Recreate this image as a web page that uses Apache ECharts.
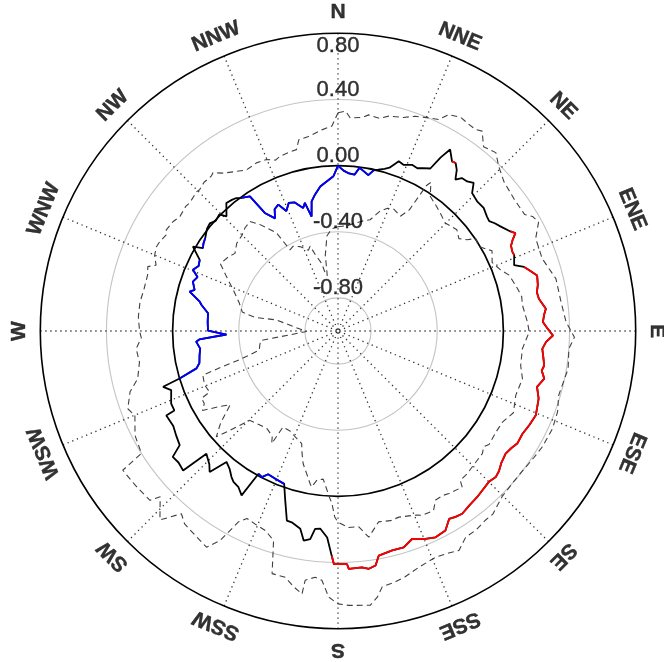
<!DOCTYPE html>
<html>
<head>
<meta charset="utf-8">
<script src="https://cdn.jsdelivr.net/npm/echarts@6/dist/echarts.min.js"></script>
<style>
html,body{margin:0;padding:0;background:#fff;}
#chart{width:664px;height:662px;}
</style>
</head>
<body>
<div id="chart"></div>
<script>
// ---- data ----
const directions = ['N','NNE','NE','ENE','E','ESE','SE','SSE','S','SSW','SW','WSW','W','WNW','NW','NNW'];
const radialTicks = [-0.8, -0.4, 0.0, 0.4, 0.8];
const radialMin = -1.0, radialMax = 0.8;

// [angle (deg, clockwise from N), value]
const mainSeries = [
[0,0.00],[2,-0.03],[4,-0.045],[6,-0.05],[7.5,-0.005],[9,-0.02],[11,-0.04],[12.5,-0.005],[14,0.005],[16,0.02],
[17.5,0.035],[19.7,0.09],[21.6,0.08],[24,0.10],[26,0.095],[27.5,0.11],[29.6,0.13],[30.6,0.22],[31.7,0.29],[33.9,0.236],
[35,0.24],[36.4,0.21],[37.8,0.158],[39,0.19],[40.8,0.195],[42.5,0.214],[44.2,0.163],[47,0.15],[49.8,0.153],[52.4,0.136],
[54,0.13],[55.5,0.15],[57.2,0.168],[60,0.204],[61.1,0.225],[62.5,0.19],[63.8,0.166],[65.6,0.158],[66.7,0.16],[69.5,0.137],
[71,0.19],[72.2,0.21],[74.4,0.25],[77,0.24],[79,0.225],[80.9,0.23],[83.9,0.264],[85.5,0.25],[87.5,0.24],[89.5,0.27],
[91.2,0.30],[93,0.26],[95,0.24],[97,0.25],[99.5,0.264],[101,0.255],[103,0.28],[105.7,0.25],[108.6,0.28],[111,0.29],
[113.1,0.30],[116,0.29],[119.2,0.277],[122,0.28],[124,0.265],[126.2,0.256],[129,0.27],[131,0.29],[132.8,0.30],[135,0.29],
[137.8,0.30],[140,0.31],[143,0.32],[145.8,0.336],[147.7,0.33],[149.4,0.32],[151.7,0.37],[154.7,0.38],[157.2,0.364],[160.4,0.335],
[163.1,0.367],[166.1,0.367],[169.7,0.38],[170.9,0.436],[172.6,0.45],[174.2,0.436],[177.4,0.44],[177.8,0.41],[181,0.41],[181.6,0.36],
[183,0.25],[185.1,0.20],[186.6,0.204],[187.6,0.27],[189.3,0.284],[190.8,0.217],[193.6,0.19],[195.1,0.187],[197.3,0.073],[199.4,-0.02],
[203,-0.03],[206,-0.036],[207.5,-0.004],[209.1,-0.012],[210.4,0.152],[212.5,0.12],[214.7,0.11],[216.1,0.093],[218.2,0.06],[220.4,0.04],
[222.3,0.153],[224,0.12],[227,0.088],[228,0.26],[230.5,0.25],[232.7,0.256],[234.2,0.18],[237.1,0.165],[240,0.15],[243.8,0.157],
[244.1,0.10],[246.5,0.10],[250.5,0.07],[252.3,0.11],[253.3,0.0],[255.2,-0.115],[257,-0.14],[260,-0.15],[262.7,-0.16],[265.7,-0.14],
[266.5,-0.16],[268.2,-0.325],[270.2,-0.214],[274,-0.21],[277.8,-0.207],[280.8,-0.16],[282,-0.145],[284.9,-0.072],[286,-0.098],[288.8,-0.073],
[291,-0.09],[292.9,-0.048],[295,-0.07],[297.2,-0.06],[300.2,0.015],[301.5,-0.042],[303,-0.03],[305,-0.02],[308,0.005],[310,0.012],
[312,-0.005],[314.5,0.006],[315.8,-0.033],[318.9,0.027],[321,0.02],[322.6,0.012],[324,-0.005],[326.8,-0.027],[328.2,-0.16],[330.8,-0.22],
[332.5,-0.17],[334.7,-0.155],[336.7,-0.21],[339,-0.17],[341.4,-0.18],[344.2,-0.227],[345.5,-0.2],[347,-0.29],[348.5,-0.2],[350.4,-0.164],
[353,-0.12],[355,-0.10],[358.3,-0.064],[360,0.00]
];

const upperBound = [
[0,0.32],[2,0.33],[3.3,0.29],[6.5,0.30],[8.1,0.32],[11,0.31],[13.3,0.335],[17,0.35],[19.8,0.38],[23,0.40],
[25.5,0.417],[27.1,0.47],[29.9,0.49],[32,0.48],[34.3,0.475],[35.8,0.49],[38.3,0.42],[41.5,0.44],[44.4,0.39],[48,0.35],
[53.3,0.33],[58,0.33],[59.5,0.365],[61.5,0.38],[64.9,0.32],[70.5,0.31],[76.5,0.355],[82.6,0.36],[87.7,0.38],[91.5,0.43],
[94.4,0.40],[99.3,0.41],[106.2,0.39],[110.3,0.415],[114.5,0.425],[119.6,0.42],[123,0.41],[127.1,0.40],[131.2,0.40],[135.3,0.41],
[139.8,0.45],[142,0.45],[145.4,0.465],[148.2,0.466],[151.1,0.515],[153.5,0.50],[156.7,0.49],[161.1,0.51],[164.7,0.54],[167,0.555],
[170.2,0.57],[171.6,0.627],[173.3,0.67],[177.8,0.66],[180,0.65],[182,0.61],[183.7,0.51],[185.3,0.495],[187.5,0.52],[187.8,0.605],
[189.8,0.57],[192.1,0.523],[195.2,0.52],[197.1,0.325],[200,0.284],[203.3,0.27],[205.9,0.26],[207.5,0.30],[209.4,0.455],[211.3,0.53],
[214.5,0.51],[218.5,0.49],[220.6,0.455],[223.3,0.57],[227,0.47],[228,0.53],[232.6,0.54],[237.1,0.55],[238.1,0.40],[242.8,0.38],
[247.4,0.33],[249.7,0.355],[253.7,0.31],[256.6,0.245],[261.1,0.215],[265,0.225],[268,0.19],[270,0.20],[274,0.21],[278.3,0.21],
[282,0.20],[286.4,0.20],[288.7,0.214],[289.9,0.17],[292.5,0.20],[294.9,0.21],[296.6,0.206],[299.2,0.19],[300.5,0.205],[303.5,0.197],
[305.9,0.18],[309.4,0.19],[310.8,0.185],[314.6,0.20],[315.6,0.196],[318,0.21],[320.7,0.21],[321.7,0.22],[324,0.18],[327.5,0.144],
[330.4,0.12],[334.1,0.13],[337.4,0.123],[339.9,0.10],[341.6,0.113],[344.5,0.12],[347.1,0.125],[348.4,0.18],[351.4,0.19],[355.4,0.22],
[358.3,0.24],[360,0.32]
];

const lowerBound = [
[0,-0.37],[5,-0.36],[9,-0.34],[12.4,-0.32],[16.1,-0.30],[19.4,-0.23],[22,-0.20],[24.6,-0.19],[28.5,-0.21],[30.5,-0.15],
[31.3,0.03],[32,0.06],[34.4,-0.013],[38.4,-0.04],[41.5,-0.06],[44.8,-0.08],[49.6,-0.056],[52.6,-0.08],[54.7,-0.045],[56.1,0.003],
[59,-0.008],[62.5,0.05],[66,0.02],[69.4,0.05],[71.9,0.088],[73.6,0.097],[76.7,0.115],[79.4,0.13],[82,0.126],[87.3,0.147],
[90.3,0.156],[95.5,0.12],[100.7,0.124],[104.5,0.152],[109.9,0.143],[115,0.17],[119,0.137],[122,0.134],[126.9,0.142],[128.5,0.125],
[130.3,0.145],[135.4,0.155],[137.8,0.164],[140.7,0.167],[141.5,0.206],[145.7,0.19],[147.3,0.18],[150,0.18],[152,0.23],[155.5,0.225],
[156.8,0.21],[161.9,0.184],[164.5,0.19],[168,0.18],[171.5,0.26],[174,0.19],[176.9,0.19],[180,0.156],[181,0.125],[182,0.045],
[183.2,-0.004],[185.7,-0.10],[188,-0.09],[189.6,-0.043],[190.3,-0.06],[192.4,-0.117],[194.7,-0.17],[196.4,-0.23],[197.9,-0.285],[202,-0.31],
[205.9,-0.33],[209.8,-0.33],[210.5,-0.21],[212,-0.25],[216,-0.27],[220,-0.26],[224.7,-0.24],[227.5,-0.11],[229,-0.025],[232,-0.10],
[235.6,-0.21],[237.5,-0.15],[239.6,-0.05],[241.5,-0.08],[243.7,-0.08],[244.6,-0.14],[248,-0.13],[251.9,-0.14],[252.8,-0.26],[253.9,-0.39],
[256.3,-0.51],[260,-0.52],[263,-0.53],[264.5,-0.52],[269,-0.81],[280.2,-0.62],[279.3,-0.49],[281.2,-0.41],[285.8,-0.38],[291.4,-0.32],
[296,-0.25],[299.8,-0.18],[304.1,-0.20],[307,-0.22],[310.9,-0.19],[315,-0.18],[318,-0.16],[321.2,-0.15],[323.7,-0.20],[327.9,-0.30],
[329.4,-0.43],[332,-0.42],[335.7,-0.44],[339.9,-0.48],[341.8,-0.46],[343.5,-0.52],[346.5,-0.58],[347.5,-0.64],[349,-0.66],[350.5,-0.535],
[353.4,-0.42],[356.6,-0.38],[360,-0.37]
];

// sectors where the main curve is significantly positive (drawn red)
const redSectors = [[33.5,35.5],[59.9,66.8],[70.9,181.7]];

// ---- chart ----
const CENTER = [338, 331];
const RADIUS = 297.7;
const LABEL_R = 0.925;   // radial value used to place compass names just outside the frame

function inRed(a){ return redSectors.some(s => a >= s[0] && a <= s[1]); }
const toPolar = arr => arr.map(p => [p[1], p[0]]);
const mainBlack = toPolar(mainSeries);
const mainRed = mainSeries.map(p => inRed(p[0]) ? [p[1], p[0]] : ['-', p[0]]);
const mainBlue = mainSeries.map(p => p[1] <= 0 ? [p[1], p[0]] : ['-', p[0]]);

const nTicks = Math.round((radialMax - radialMin) / 0.2) + 1;
const gridColors = [], zeroColors = [];
for (let i = 0; i < nTicks; i++) {
  const v = +(radialMin + i * 0.2).toFixed(2);
  const isTick = radialTicks.some(t => Math.abs(t - v) < 1e-6);
  gridColors.push(isTick && Math.abs(v) > 1e-6 && v < radialMax - 1e-6 ? '#c4c4c4' : 'rgba(0,0,0,0)');
  zeroColors.push(Math.abs(v) < 1e-6 ? '#000000' : 'rgba(0,0,0,0)');
}

const chart = echarts.init(document.getElementById('chart'), null, {renderer: 'canvas'});
const lineBase = {type: 'line', coordinateSystem: 'polar', polarIndex: 0, symbol: 'none', silent: true, animation: false, connectNulls: false};

chart.setOption({
  backgroundColor: '#ffffff',
  animation: false,
  polar: [
    {center: CENTER, radius: RADIUS},
    {center: CENTER, radius: RADIUS}
  ],
  angleAxis: [
    {polarIndex: 0, type: 'value', min: 0, max: 360, interval: 22.5, startAngle: 90, clockwise: true,
     axisLine: {show: true, lineStyle: {color: '#000', width: 1.6}},
     axisTick: {show: false}, axisLabel: {show: false},
     splitLine: {show: true, lineStyle: {color: '#333333', width: 1.3, type: [1.3, 3.7]}}},
    {polarIndex: 1, type: 'value', min: 0, max: 360, startAngle: 90, clockwise: true,
     axisLine: {show: false}, axisTick: {show: false}, axisLabel: {show: false}, splitLine: {show: false}}
  ],
  radiusAxis: [
    {polarIndex: 0, type: 'value', min: radialMin, max: radialMax, interval: 0.2,
     axisLine: {show: false}, axisTick: {show: false}, axisLabel: {show: false},
     splitLine: {show: true, lineStyle: {color: gridColors, width: 1.1}}},
    {polarIndex: 1, type: 'value', min: radialMin, max: radialMax, interval: 0.2,
     axisLine: {show: false}, axisTick: {show: false}, axisLabel: {show: false},
     splitLine: {show: true, lineStyle: {color: zeroColors, width: 1.7}}}
  ],
  series: [
    Object.assign({}, lineBase, {name: 'upper', data: toPolar(upperBound), z: 2,
      lineStyle: {color: '#404040', width: 1.1, type: [6, 4]}}),
    Object.assign({}, lineBase, {name: 'lower', data: toPolar(lowerBound), z: 2,
      lineStyle: {color: '#404040', width: 1.1, type: [6, 4]}}),
    Object.assign({}, lineBase, {name: 'main', data: mainBlack, z: 3,
      lineStyle: {color: '#000000', width: 1.8}}),
    Object.assign({}, lineBase, {name: 'mainRed', data: mainRed, z: 4,
      lineStyle: {color: '#ff0000', width: 1.8}}),
    Object.assign({}, lineBase, {name: 'mainBlue', data: mainBlue, z: 4,
      lineStyle: {color: '#0000ff', width: 1.8}}),
    {type: 'scatter', coordinateSystem: 'polar', polarIndex: 0, silent: true, clip: false, z: 10,
     symbolSize: 1, itemStyle: {color: 'rgba(0,0,0,0)'},
     data: radialTicks.map(v => ({value: [v, 0], name: v.toFixed(2),
       label: {offset: [0, v >= radialMax - 1e-6 ? 13 : -9.5]}})),
     label: {show: true, position: 'inside', formatter: p => p.name, color: '#000',
       textBorderColor: '#000', textBorderWidth: 0.4,
       fontFamily: 'Liberation Sans', fontSize: 22, align: 'center', verticalAlign: 'middle'}},
    {type: 'scatter', coordinateSystem: 'polar', polarIndex: 0, silent: true, clip: false, z: 10,
     symbolSize: 1, itemStyle: {color: 'rgba(0,0,0,0)'},
     data: directions.map((d, i) => ({value: [LABEL_R, i * 360 / directions.length], name: d,
       label: {rotate: -i * 360 / directions.length}})),
     label: {show: true, position: 'inside', formatter: p => p.name, color: '#000',
       textBorderColor: '#000', textBorderWidth: 0.4,
       fontFamily: 'Liberation Sans', fontWeight: 'bold', fontSize: 21, align: 'center', verticalAlign: 'middle'}}
  ]
});
</script>
</body>
</html>
